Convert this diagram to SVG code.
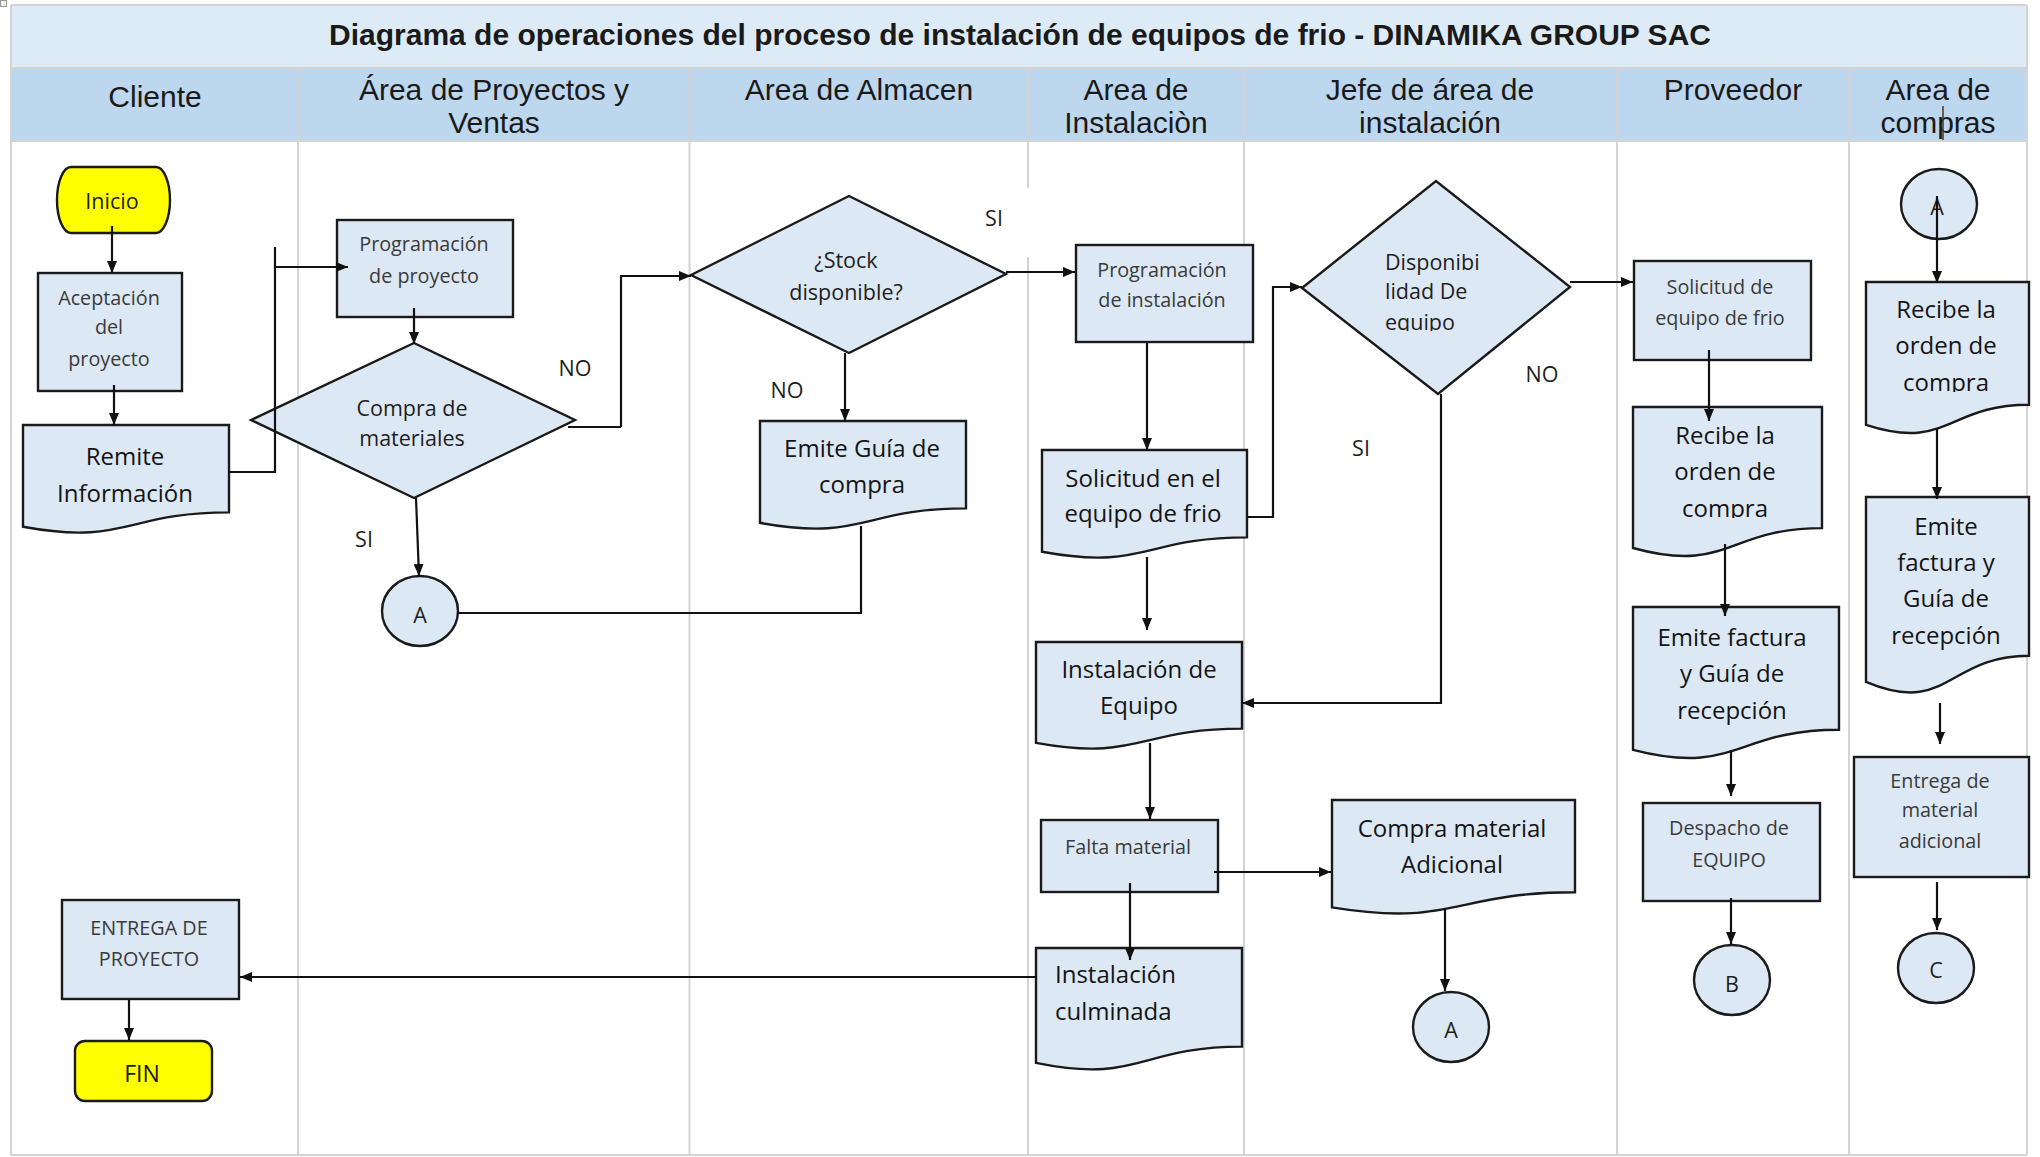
<svg xmlns="http://www.w3.org/2000/svg" width="2040" height="1157" viewBox="0 0 2040 1157">
  <style>
    .grid { stroke: #d3d3d3; stroke-width: 2; fill: none; }
    .hdr { font-family: "Liberation Sans", Arial, sans-serif; font-size: 30px; fill: #1a1a1a; text-anchor: middle; }
    .title { font-family: "Liberation Sans", Arial, sans-serif; font-size: 30px; font-weight: bold; fill: #1a1a1a; text-anchor: middle; }
    .box { fill: #dde8f5; stroke: #1a1a1a; stroke-width: 2.4; }
    .term { fill: #ffff00; stroke: #1a1a1a; stroke-width: 2.4; }
    .t { font-family: "Open Sans", "Noto Sans", sans-serif; text-anchor: middle; }
    .big { font-size: 24px; fill: #141414; }
    .md { font-size: 21.5px; fill: #1e1e1e; }
    .sm { font-size: 19.8px; fill: #3a3a3a; }
    .left { text-anchor: start; }
    .conn { fill: none; stroke: #111; stroke-width: 2.2; }
    .arr { marker-end: url(#ah); }
  </style>
  <defs>
    <marker id="ah" viewBox="0 0 12 10" refX="12" refY="5" markerWidth="12" markerHeight="10" markerUnits="userSpaceOnUse" orient="auto">
      <path d="M0,0 L12,5 L0,10 Z" fill="#111"/>
    </marker>
    <!-- text boxes that cut off the descenders of their last line -->
    <clipPath id="clipDisp"><rect x="1300" y="180" width="280" height="151"/></clipPath>
    <clipPath id="clipRecProv"><rect x="1630" y="405" width="200" height="113"/></clipPath>
    <clipPath id="clipRecComp"><rect x="1860" y="280" width="175" height="112"/></clipPath>
  </defs>

  <!-- background -->
  <rect x="0" y="0" width="2040" height="1157" fill="#ffffff"/>
  <rect x="0.5" y="0.5" width="6" height="6" fill="#eeeeee" stroke="#9a9a9a" stroke-width="1"/>

  <!-- swimlane table -->
  <g id="lanes">
    <rect x="11" y="5" width="2016" height="63" fill="#ddebf7"/>
    <rect x="11" y="68" width="2016" height="73" fill="#bdd7ee"/>
    <line class="grid" x1="11" y1="5" x2="2027" y2="5"/>
    <line class="grid" x1="11" y1="68" x2="2027" y2="68"/>
    <line class="grid" x1="11" y1="141" x2="2027" y2="141"/>
    <line class="grid" x1="11" y1="1155" x2="2027" y2="1155"/>
    <line class="grid" x1="11" y1="5" x2="11" y2="1155"/>
    <line class="grid" x1="2027" y1="5" x2="2027" y2="1155"/>
    <line class="grid" x1="298" y1="68" x2="298" y2="1155"/>
    <line class="grid" x1="689.5" y1="68" x2="689.5" y2="1155"/>
    <line class="grid" x1="1028" y1="68" x2="1028" y2="188"/>
    <line class="grid" x1="1028" y1="257" x2="1028" y2="1155"/>
    <line class="grid" x1="1244" y1="68" x2="1244" y2="1155"/>
    <line class="grid" x1="1617" y1="68" x2="1617" y2="1155"/>
    <line class="grid" x1="1849" y1="68" x2="1849" y2="1155"/>

    <text class="title" x="1020" y="45">Diagrama de operaciones del proceso de instalación de equipos de frio - DINAMIKA GROUP SAC</text>
    <text class="hdr" x="155" y="107">Cliente</text>
    <text class="hdr" x="494" y="100">Área de Proyectos y</text>
    <text class="hdr" x="494" y="133">Ventas</text>
    <text class="hdr" x="859" y="100">Area de Almacen</text>
    <text class="hdr" x="1136" y="100">Area de</text>
    <text class="hdr" x="1136" y="133">Instalaciòn</text>
    <text class="hdr" x="1430" y="100">Jefe de área de</text>
    <text class="hdr" x="1430" y="133">instalación</text>
    <text class="hdr" x="1733" y="100">Proveedor</text>
    <text class="hdr" x="1938" y="100">Area de</text>
    <text class="hdr" x="1938" y="133">compras</text>
    <line x1="1943" y1="106" x2="1943" y2="140" stroke="#4a3520" stroke-width="1.5"/>
  </g>

  <!-- Cliente -->
  <g id="inicio">
    <rect class="term" x="57" y="167" width="113" height="66" rx="14" ry="33"/>
    <text class="t md" x="112" y="209">Inicio</text>
  </g>
  <g id="aceptacion">
    <rect class="box" x="38" y="273" width="144" height="118"/>
    <text class="t sm" x="109" y="305">Aceptación</text>
    <text class="t sm" x="109" y="334">del</text>
    <text class="t sm" x="109" y="366">proyecto</text>
  </g>
  <g id="remite">
    <path class="box" d="M23,425 H229 V512.4 C126,512.4 126,545.7 23,526.8 Z"/>
    <text class="t big" x="125" y="465">Remite</text>
    <text class="t big" x="125" y="502">Información</text>
  </g>
  <g id="entrega-proyecto">
    <rect class="box" x="62" y="900" width="177" height="99"/>
    <text class="t sm" x="149" y="935">ENTREGA DE</text>
    <text class="t sm" x="149" y="966">PROYECTO</text>
  </g>
  <g id="fin">
    <rect class="term" x="75" y="1041" width="137" height="60" rx="10"/>
    <text class="t" x="142" y="1082" font-size="23" fill="#1a1a1a">FIN</text>
  </g>

  <!-- Area de Proyectos y Ventas -->
  <g id="prog-proyecto">
    <rect class="box" x="337" y="220" width="176" height="97"/>
    <text class="t sm" x="424" y="251">Programación</text>
    <text class="t sm" x="424" y="283">de proyecto</text>
  </g>
  <g id="compra-materiales">
    <path class="box" d="M251,420 L414,343 L575,420 L414,498 Z"/>
    <text class="t md" x="412" y="416">Compra de</text>
    <text class="t md" x="412" y="446">materiales</text>
  </g>
  <g id="conector-a1">
    <ellipse class="box" cx="420" cy="611" rx="38" ry="35"/>
    <text class="t md" x="420" y="623">A</text>
  </g>

  <!-- Area de Almacen -->
  <g id="stock">
    <path class="box" d="M691,275 L849,196 L1006,274 L849,353 Z"/>
    <text class="t md" x="846" y="268">¿Stock</text>
    <text class="t md" x="846" y="300">disponible?</text>
  </g>
  <g id="guia-compra">
    <path class="box" d="M760,421 H966 V508.4 C863,508.4 863,541.7 760,522.8 Z"/>
    <text class="t big" x="862" y="457">Emite Guía de</text>
    <text class="t big" x="862" y="493">compra</text>
  </g>

  <!-- Area de Instalacion -->
  <g id="prog-instalacion">
    <rect class="box" x="1076" y="245" width="177" height="97"/>
    <text class="t sm" x="1162" y="277">Programación</text>
    <text class="t sm" x="1162" y="307">de instalación</text>
  </g>
  <g id="solicitud-equipo">
    <path class="box" d="M1042,450 H1247 V537.4 C1144.5,537.4 1144.5,570.7 1042,551.8 Z"/>
    <text class="t big" x="1143" y="487">Solicitud en el</text>
    <text class="t big" x="1143" y="522">equipo de frio</text>
  </g>
  <g id="instalacion-equipo">
    <path class="box" d="M1036,642 H1242 V728.6 C1139,728.6 1139,761.6 1036,742.9 Z"/>
    <text class="t big" x="1139" y="678">Instalación de</text>
    <text class="t big" x="1139" y="714">Equipo</text>
  </g>
  <g id="falta-material">
    <rect class="box" x="1041" y="820" width="177" height="72"/>
    <text class="t sm" x="1128" y="854">Falta material</text>
  </g>
  <g id="instalacion-culminada">
    <path class="box" d="M1036,948 H1242 V1046.6 C1139,1046.6 1139,1084.2 1036,1062.9 Z"/>
    <text class="t big left" x="1055" y="983">Instalación</text>
    <text class="t big left" x="1055" y="1020">culminada</text>
  </g>

  <!-- Jefe de area de instalacion -->
  <g id="disponibilidad">
    <path class="box" d="M1302,288 L1436,181 L1570,287 L1438,394 Z"/>
    <text class="t md left" x="1385" y="270">Disponibi</text>
    <text class="t md left" x="1385" y="298.5">lidad De</text>
    <text class="t md left" x="1385" y="330" clip-path="url(#clipDisp)">equipo</text>
  </g>
  <g id="compra-adicional">
    <path class="box" d="M1332,800 H1575 V892.2 C1453.5,892.2 1453.5,927.4 1332,907.4 Z"/>
    <text class="t big" x="1452" y="837">Compra material</text>
    <text class="t big" x="1452" y="873">Adicional</text>
  </g>
  <g id="conector-a2">
    <ellipse class="box" cx="1451" cy="1027" rx="38" ry="35"/>
    <text class="t md" x="1451" y="1038">A</text>
  </g>

  <!-- Proveedor -->
  <g id="solicitud-frio">
    <rect class="box" x="1634" y="261" width="177" height="99"/>
    <text class="t sm" x="1720" y="294">Solicitud de</text>
    <text class="t sm" x="1720" y="325">equipo de frio</text>
  </g>
  <g id="recibe-orden-prov">
    <path class="box" d="M1633,407 H1822 V528.1 C1727.5,528.1 1727.5,574.2 1633,548 Z"/>
    <text class="t big" x="1725" y="444">Recibe la</text>
    <text class="t big" x="1725" y="480">orden de</text>
    <text class="t big" x="1725" y="517" clip-path="url(#clipRecProv)">compra</text>
  </g>
  <g id="factura-prov">
    <path class="box" d="M1633,607 H1839 V729.7 C1736,729.7 1736,776.4 1633,749.9 Z"/>
    <text class="t big" x="1732" y="646">Emite factura</text>
    <text class="t big" x="1732" y="682">y Guía de</text>
    <text class="t big" x="1732" y="719">recepción</text>
  </g>
  <g id="despacho">
    <rect class="box" x="1643" y="803" width="177" height="98"/>
    <text class="t sm" x="1729" y="835">Despacho de</text>
    <text class="t sm" x="1729" y="867">EQUIPO</text>
  </g>
  <g id="conector-b">
    <ellipse class="box" cx="1732" cy="980" rx="38" ry="35"/>
    <text class="t md" x="1732" y="992">B</text>
  </g>

  <!-- Area de compras -->
  <g id="conector-a3">
    <ellipse class="box" cx="1939" cy="204" rx="38" ry="35"/>
    <text class="t md" x="1937" y="215">A</text>
  </g>
  <g id="recibe-orden-compras">
    <path class="box" d="M1866,282 H2029 V404.7 C1947.5,404.7 1947.5,451.4 1866,424.9 Z"/>
    <text class="t big" x="1946" y="318">Recibe la</text>
    <text class="t big" x="1946" y="354">orden de</text>
    <text class="t big" x="1946" y="391" clip-path="url(#clipRecComp)">compra</text>
  </g>
  <g id="factura-compras">
    <path class="box" d="M1866,497 H2029 V655.8 C1947.5,655.8 1947.5,716.3 1866,681.9 Z"/>
    <text class="t big" x="1946" y="535">Emite</text>
    <text class="t big" x="1946" y="571">factura y</text>
    <text class="t big" x="1946" y="607">Guía de</text>
    <text class="t big" x="1946" y="644">recepción</text>
  </g>
  <g id="entrega-material">
    <rect class="box" x="1854" y="757" width="175" height="120"/>
    <text class="t sm" x="1940" y="788">Entrega de</text>
    <text class="t sm" x="1940" y="817">material</text>
    <text class="t sm" x="1940" y="848">adicional</text>
  </g>
  <g id="conector-c">
    <ellipse class="box" cx="1936" cy="968" rx="38" ry="35"/>
    <text class="t md" x="1936" y="978">C</text>
  </g>

  <!-- branch labels -->
  <g id="labels">
    <text class="t md" x="575" y="376">NO</text>
    <text class="t md" x="364" y="547">SI</text>
    <text class="t md" x="994" y="226">SI</text>
    <text class="t md" x="787" y="398">NO</text>
    <text class="t md" x="1542" y="382">NO</text>
    <text class="t md" x="1361" y="456">SI</text>
  </g>

  <!-- connectors -->
  <g id="connectors">
    <path class="conn arr" d="M112,226 V273"/>
    <path class="conn arr" d="M114,385 V425"/>
    <path class="conn" d="M229,472 H275 V247"/>
    <path class="conn arr" d="M275,267 H348"/>
    <path class="conn arr" d="M414,308 V344"/>
    <path class="conn arr" d="M621,427 H568 M621,427 V276 H691"/>
    <path class="conn arr" d="M416,498 L419,576"/>
    <path class="conn" d="M861,526 V613 H458"/>
    <path class="conn arr" d="M1006,272 H1075"/>
    <path class="conn arr" d="M845,353 V421"/>
    <path class="conn arr" d="M1147,343 V450"/>
    <path class="conn arr" d="M1147,557 V630"/>
    <path class="conn arr" d="M1247,517 H1273 V287 H1302"/>
    <path class="conn arr" d="M1570,282 H1633"/>
    <path class="conn arr" d="M1441,394 V703 H1242"/>
    <path class="conn arr" d="M1150,743 V819"/>
    <path class="conn arr" d="M1214,872 H1331"/>
    <path class="conn arr" d="M1130,883 V960"/>
    <path class="conn arr" d="M1036,977 H240"/>
    <path class="conn arr" d="M129,1000 V1040"/>
    <path class="conn arr" d="M1445,908 V991"/>
    <path class="conn arr" d="M1709,350 V421"/>
    <path class="conn arr" d="M1725,544 V616"/>
    <path class="conn arr" d="M1731,750 V796"/>
    <path class="conn arr" d="M1731,898 V944"/>
    <path class="conn arr" d="M1937,196 V283"/>
    <path class="conn arr" d="M1937,428 V499"/>
    <path class="conn arr" d="M1940,703 V744"/>
    <path class="conn arr" d="M1937,882 V930"/>
  </g>
</svg>
